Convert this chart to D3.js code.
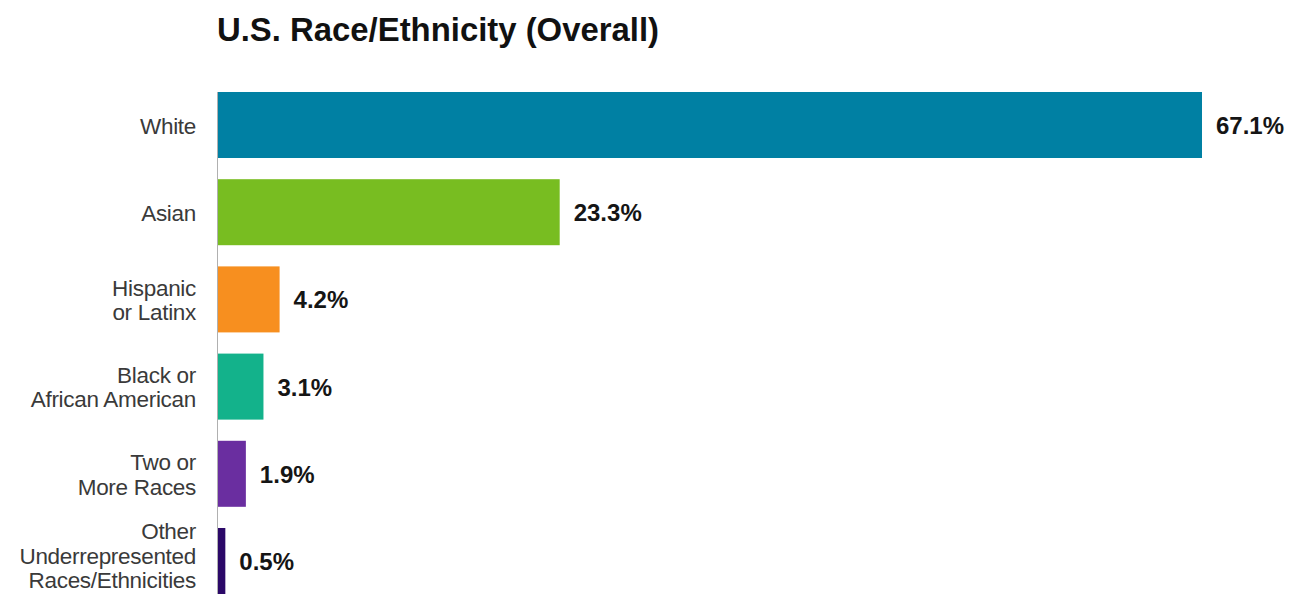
<!DOCTYPE html>
<html>
<head>
<meta charset="utf-8">
<script src="https://cdn.jsdelivr.net/npm/d3@7"></script>
<style>
  html, body { margin: 0; padding: 0; background: #fff; }
  svg { display: block; font-family: "Liberation Sans", Arial, sans-serif; }
</style>
</head>
<body>
<svg id="chart" width="1293" height="594"></svg>
<script>
// data
const categories = ["White", "Asian", "Hispanic or Latinx", "Black or African American", "Two or More Races", "Other Underrepresented Races/Ethnicities"];
const labelLines = [["White"], ["Asian"], ["Hispanic", "or Latinx"], ["Black or", "African American"], ["Two or", "More Races"], ["Other", "Underrepresented", "Races/Ethnicities"]];
const values = [67.1, 23.3, 4.2, 3.1, 1.9, 0.5];
const colors = ["#0080a3", "#78bd21", "#f78f1f", "#13b28b", "#6a2ea0", "#2b0868"];

const svg = d3.select("#chart");

// title
svg.append("text")
    .attr("x", 217)
    .attr("y", 41)
    .attr("font-size", 33)
    .attr("font-weight", "bold")
    .attr("fill", "#111")
    .attr("textLength", 442)
    .attr("lengthAdjust", "spacingAndGlyphs")
    .text("U.S. Race/Ethnicity (Overall)");

// scales
const x = d3.scaleLinear().domain([0, 67.1]).range([218, 1202]);
const y = d3.scaleBand()
    .domain(categories)
    .range([81.4, 81.4 + 6 * 87.2])
    .paddingInner(0.243)
    .paddingOuter(0.1215);

// axis line
svg.append("line")
    .attr("x1", 217.5).attr("x2", 217.5)
    .attr("y1", y(categories[0])).attr("y2", 594)
    .attr("stroke", "#b0b0b0")
    .attr("stroke-width", 1);

// bars
svg.selectAll("rect.bar")
    .data(categories)
    .enter().append("rect")
    .attr("class", "bar")
    .attr("x", x(0))
    .attr("y", d => y(d))
    .attr("width", (d, i) => x(values[i]) - x(0))
    .attr("height", y.bandwidth())
    .attr("fill", (d, i) => colors[i]);

// value labels
svg.selectAll("text.value")
    .data(categories)
    .enter().append("text")
    .attr("class", "value")
    .attr("x", (d, i) => x(values[i]) + 14)
    .attr("y", d => y(d) + y.bandwidth() / 2 + 9)
    .attr("font-size", 24)
    .attr("font-weight", "bold")
    .attr("fill", "#151515")
    .text((d, i) => d3.format(".1f")(values[i]) + "%");

// category labels
const lineH = 24.5;
const cat = svg.selectAll("text.cat")
    .data(categories)
    .enter().append("text")
    .attr("class", "cat")
    .attr("text-anchor", "end")
    .attr("font-size", 22.5)
    .attr("fill", "#3a3a3a")
    .attr("letter-spacing", -0.3);

cat.each(function (d, i) {
    const lines = labelLines[i];
    let cy = y(d) + y.bandwidth() / 2 + 8.5 - (lines.length - 1) * lineH / 2;
    // keep the last line inside the picture
    cy = Math.min(cy, 588 - (lines.length - 1) * lineH);
    d3.select(this).selectAll("tspan")
        .data(lines)
        .enter().append("tspan")
        .attr("x", 196)
        .attr("y", (l, j) => cy + j * lineH)
        .text(l => l);
});
</script>
</body>
</html>
